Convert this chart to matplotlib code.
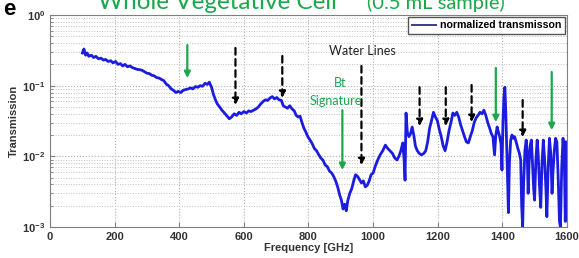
import numpy as np
import matplotlib.pyplot as plt

# normalized transmission
freq = [100, 105, 110, 115, 120, 128, 135, 142, 150, 158, 165, 172, 180, 188, 195, 203,
        210, 218, 225, 232, 240, 248, 255, 262, 270, 278, 285, 292, 300, 308, 315, 322,
        330, 338, 345, 352, 360, 367, 375, 382, 390, 397, 405, 412, 420, 428, 435, 442,
        450, 458, 465, 472, 480, 487, 493, 500, 506, 512, 518, 525, 532, 540, 548, 555,
        562, 570, 578, 585, 592, 600, 608, 615, 622, 630, 638, 645, 652, 660, 667, 674,
        681, 688, 695, 702, 709, 716, 722, 728, 735, 742, 749, 756, 762, 768, 774, 780,
        786, 792, 798, 805, 812, 818, 825, 832, 838, 845, 852, 858, 865, 872, 878, 885,
        891, 897, 902, 907, 912, 917, 922, 928, 934, 940, 946, 952, 958, 964, 970, 976,
        982, 988, 994, 1000, 1008, 1015, 1022, 1030, 1038, 1045, 1052, 1060, 1067, 1074,
        1080, 1086, 1092, 1096, 1099, 1102, 1106, 1111, 1116, 1121, 1126, 1131, 1137, 1143,
        1150, 1157, 1163, 1169, 1175, 1181, 1187, 1193, 1199, 1205, 1211, 1217, 1223, 1229,
        1235, 1241, 1247, 1253, 1259, 1265, 1271, 1277, 1283, 1289, 1295, 1301, 1307, 1313,
        1319, 1325, 1331, 1337, 1343, 1349, 1355, 1361, 1366, 1371, 1376, 1380, 1384, 1388,
        1392, 1396, 1399, 1402, 1405, 1408, 1411, 1414, 1417, 1419, 1422, 1426, 1430, 1434,
        1438, 1443, 1448, 1453, 1457, 1460, 1463, 1466, 1470, 1474, 1477, 1480, 1483, 1486,
        1490, 1493, 1497, 1500, 1504, 1508, 1511, 1515, 1519, 1523, 1527, 1531, 1535, 1538,
        1542, 1546, 1550, 1554, 1557, 1561, 1565, 1569, 1573, 1577, 1580, 1584, 1588, 1592,
        1595, 1598]
trans = [0.29, 0.33, 0.27, 0.29, 0.26, 0.27, 0.25, 0.26, 0.24, 0.245, 0.23, 0.235, 0.22, 0.225, 0.21, 0.22,
         0.2, 0.205, 0.19, 0.2, 0.185, 0.19, 0.18, 0.175, 0.17, 0.168, 0.165, 0.158, 0.15, 0.148, 0.14, 0.138,
         0.13, 0.128, 0.122, 0.118, 0.105, 0.1, 0.09, 0.086, 0.08, 0.083, 0.08, 0.086, 0.088, 0.09, 0.093, 0.09,
         0.097, 0.095, 0.1, 0.098, 0.108, 0.104, 0.112, 0.095, 0.075, 0.063, 0.055, 0.05, 0.045, 0.041, 0.037, 0.034,
         0.036, 0.04, 0.038, 0.042, 0.04, 0.043, 0.041, 0.044, 0.043, 0.045, 0.047, 0.05, 0.055, 0.06, 0.063, 0.062,
         0.067, 0.07, 0.065, 0.068, 0.063, 0.062, 0.052, 0.05, 0.048, 0.052, 0.047, 0.044, 0.038, 0.036, 0.037, 0.03,
         0.025, 0.022, 0.019, 0.017, 0.015, 0.013, 0.012, 0.0105, 0.0095, 0.0088, 0.0075, 0.0072, 0.0062, 0.0058, 0.0052, 0.0044,
         0.0036, 0.0028, 0.0024, 0.0018, 0.0021, 0.0017, 0.0024, 0.003, 0.0035, 0.0045, 0.0055, 0.0052, 0.0047, 0.0042, 0.0045, 0.0037,
         0.0039, 0.0045, 0.0055, 0.0058, 0.0075, 0.009, 0.0105, 0.012, 0.0144, 0.013, 0.012, 0.011, 0.0095, 0.0089,
         0.01, 0.012, 0.0155, 0.009, 0.0046, 0.041, 0.022, 0.019, 0.021, 0.026, 0.02, 0.014, 0.012, 0.011,
         0.0105, 0.011, 0.012, 0.016, 0.025, 0.032, 0.042, 0.036, 0.032, 0.024, 0.019, 0.014, 0.012, 0.016,
         0.023, 0.03, 0.041, 0.038, 0.042, 0.036, 0.028, 0.023, 0.019, 0.016, 0.0155, 0.019, 0.023, 0.03,
         0.035, 0.038, 0.042, 0.04, 0.045, 0.038, 0.03, 0.025, 0.021, 0.019, 0.0105, 0.02, 0.026, 0.022,
         0.019, 0.015, 0.0064, 0.03, 0.069, 0.095, 0.04, 0.012, 0.0037, 0.0016, 0.008, 0.017, 0.02, 0.018,
         0.019, 0.016, 0.013, 0.011, 0.0089, 0.002, 0.001, 0.004, 0.012, 0.017, 0.011, 0.003, 0.008, 0.014,
         0.017, 0.009, 0.0035, 0.0024, 0.009, 0.017, 0.011, 0.004, 0.0019, 0.008, 0.017, 0.009, 0.0035, 0.0014,
         0.007, 0.018, 0.011, 0.003, 0.006, 0.012, 0.018, 0.016, 0.005, 0.0012, 0.001, 0.007, 0.018, 0.01,
         0.0012, 0.016]

# (x, y_start, y_end, color, dashed)
arrows = [(425, 0.376, 0.128, '#1aa84a', False),
          (574, 0.341, 0.053, 'black', True),
          (719, 0.263, 0.067, 'black', True),
          (964, 0.19, 0.0075, 'black', True),
          (905, 0.045, 0.0064, '#1aa84a', False),
          (1144, 0.095, 0.0268, 'black', True),
          (1225, 0.095, 0.0268, 'black', True),
          (1305, 0.102, 0.0305, 'black', True),
          (1380, 0.178, 0.0305, '#1aa84a', False),
          (1463, 0.0625, 0.0187, 'black', True),
          (1553, 0.156, 0.0235, '#1aa84a', False)]

green = '#1aa84a'
plt.rcParams['font.family'] = ['Liberation Sans', 'DejaVu Sans']

fig = plt.figure(figsize=(5.79, 2.58), dpi=100)
ax = fig.add_axes([0.0864, 0.120, 0.8927, 0.822])
ax.semilogy(freq, trans, color='#1c1ce0', linewidth=2.0, label='normalized transmisson')
ax.set_xlim(0, 1600)
ax.set_ylim(1e-3, 1)
ax.set_xticks(range(0, 1601, 200))
ax.grid(True, which='major', linestyle=':', color='#b0b0b0', linewidth=0.8)
ax.grid(True, which='minor', axis='y', linestyle=':', color='#c0c0c0', linewidth=0.7)
for s in ax.spines.values():
    s.set_color('#808080')
ax.tick_params(which='both', direction='in', colors='#808080', labelcolor='#333333', labelsize=8)
for lab in ax.get_xticklabels() + ax.get_yticklabels():
    lab.set_fontweight('bold')
ax.set_xlabel('Frequency [GHz]', fontsize=8, fontweight='bold', color='#333333', labelpad=1)
ax.set_ylabel('Transmission', fontsize=8, fontweight='bold', color='#333333', labelpad=2)

for x, y0, y1, c, dashed in arrows:
    ax.annotate('', xy=(x, y1), xytext=(x, y0),
                arrowprops=dict(arrowstyle='-|>', color=c, lw=1.6,
                                linestyle=(0, (3, 2)) if dashed else '-',
                                mutation_scale=9, shrinkA=0, shrinkB=0))

ax.text(967, 0.31, 'Water Lines', fontsize=9, family='Lato', color='#222222', ha='center', va='center')
ax.text(899, 0.108, 'Bt', fontsize=9, family='Lato', color=green, ha='center', va='center')
ax.text(884, 0.0605, 'Signature', fontsize=9, family='Lato', color=green, ha='center', va='center')

leg = ax.legend(loc='upper right', fontsize=7.6, handlelength=2.3, handletextpad=0.4, borderpad=0.35,
                fancybox=False, framealpha=1, edgecolor='#555555', borderaxespad=0.15)
for t in leg.get_texts():
    t.set_fontweight('bold')
leg.get_lines()[0].set_color('#3a3a9a')
leg.get_lines()[0].set_linewidth(1.4)

fig.text(0.169, 0.965, 'Whole Vegetative Cell', fontsize=17.5, family='Lato', color=green, va='baseline')
fig.text(0.634, 0.965, '(0.5 mL sample)', fontsize=14.5, family='Lato', color=green, va='baseline')
fig.text(0.005, 0.94, 'e', fontsize=16, fontweight='bold', color='black', va='baseline')

fig.savefig('out.png', dpi=100)
